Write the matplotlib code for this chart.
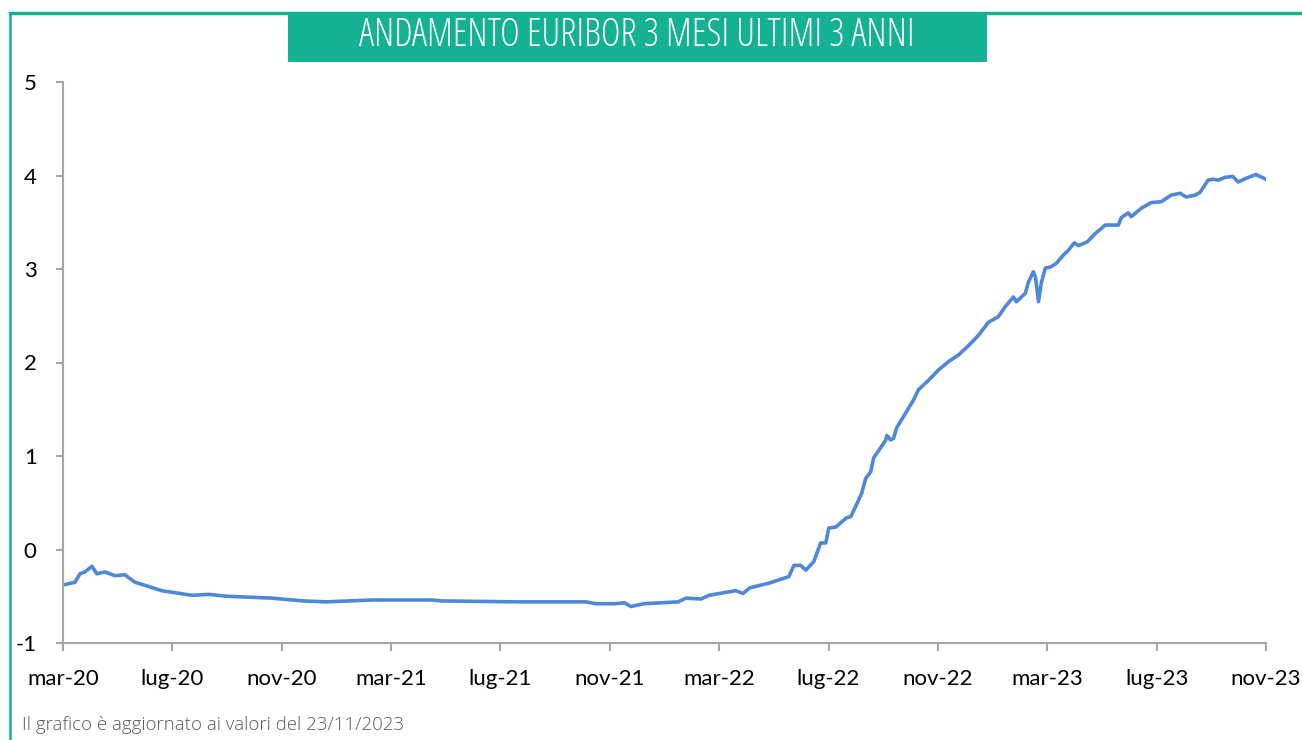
import matplotlib.pyplot as plt
from matplotlib.patches import Rectangle
from matplotlib.lines import Line2D

plt.rcParams['axes.unicode_minus'] = False

# mesi trascorsi da marzo 2020 (lettura approssimativa dal grafico)
mesi = [0, 0.44, 0.62, 0.80, 1.06, 1.24, 1.53, 1.90, 2.26, 2.63,
        3.18, 3.60, 4.72, 5.34, 5.98, 7.64, 8.78, 9.62, 11.30, 13.53,
        13.82, 16.61, 19.13, 19.49, 20.19, 20.54, 20.77, 21.24, 22.50,
        22.79, 23.33, 23.63, 24.60, 24.87, 25.12, 25.82,
        26.55, 26.73, 26.98, 27.17, 27.46, 27.71, 27.90, 28.01, 28.26,
        28.66, 28.81, 28.99, 29.21, 29.36, 29.54, 29.65, 29.91, 30.09,
        30.13, 30.27, 30.38, 30.49, 30.82, 31.11, 31.29, 31.66, 32.02,
        32.39, 32.75, 33.12, 33.48, 33.85, 34.21, 34.47, 34.76, 34.87,
        35.20, 35.31, 35.49, 35.57, 35.68, 35.78, 35.93, 36.11, 36.33,
        36.59, 36.77, 36.99, 37.14, 37.46, 37.76, 38.12, 38.41, 38.60,
        38.71, 38.96, 39.07, 39.44, 39.80, 40.17, 40.53, 40.86, 41.08,
        41.41, 41.59, 41.88, 42.07, 42.25, 42.50, 42.79, 42.98, 43.27,
        43.63, 44.00]
euribor = [-0.38, -0.35, -0.26, -0.24, -0.18, -0.26, -0.24, -0.28, -0.27,
           -0.35,
           -0.40, -0.44, -0.49, -0.48, -0.50, -0.52, -0.55, -0.56, -0.54,
           -0.54, -0.55, -0.56, -0.56, -0.58, -0.58, -0.57, -0.61, -0.58,
           -0.56, -0.52, -0.53, -0.49, -0.44, -0.47, -0.41, -0.36,
           -0.29, -0.17, -0.17, -0.22, -0.13,
           0.07, 0.07, 0.23, 0.24, 0.34, 0.35, 0.46, 0.60, 0.76, 0.83, 0.98,
           1.09, 1.17, 1.22, 1.17, 1.19, 1.30, 1.46, 1.60, 1.71, 1.81, 1.92,
           2.01, 2.08, 2.18, 2.29, 2.43, 2.49, 2.60, 2.70, 2.65, 2.74, 2.86,
           2.97, 2.91, 2.65, 2.85, 3.01, 3.02, 3.06, 3.15, 3.20, 3.28, 3.25,
           3.29, 3.38, 3.47, 3.47, 3.47, 3.55, 3.60, 3.56, 3.65, 3.71, 3.72,
           3.79, 3.81, 3.77, 3.79, 3.82, 3.95, 3.96, 3.95, 3.98, 3.99, 3.93,
           3.97, 4.01, 3.96]

tick_mesi = [0, 4, 8, 12, 16, 20, 24, 28, 32, 36, 40, 44]
tick_label = ['mar-20', 'lug-20', 'nov-20', 'mar-21', 'lug-21', 'nov-21',
              'mar-22', 'lug-22', 'nov-22', 'mar-23', 'lug-23', 'nov-23']

verde = '#14B193'
grigio = '#A6A6A6'
W, H = 1302, 740

fig = plt.figure(figsize=(W / 100, H / 100), dpi=100)
ax = fig.add_axes([63 / W, 1 - 643 / H, (1266 - 63) / W, (643 - 82) / H])

ax.plot(mesi, euribor, color='#4F88D8', lw=2.6, solid_joinstyle='round')
ax.set_xlim(0, 44)
ax.set_ylim(-1, 5)
ax.set_xticks(tick_mesi)
ax.set_xticklabels(tick_label)
ax.set_yticks(range(-1, 6))

for s in ['top', 'right']:
    ax.spines[s].set_visible(False)
for s in ['left', 'bottom']:
    ax.spines[s].set_color(grigio)
    ax.spines[s].set_linewidth(1.5)
ax.tick_params(axis='y', length=5, width=1.5, color=grigio, pad=14,
               labelsize=16)
ax.tick_params(axis='x', length=6, width=1.5, color=grigio, pad=13,
               labelsize=16)
for lab in ax.get_xticklabels() + ax.get_yticklabels():
    lab.set_family('Lato')

# cornice verde
fig.add_artist(Line2D([10 / W, 10 / W], [0, 1 - 13 / H], color=verde,
                      lw=1.8, transform=fig.transFigure))
fig.add_artist(Line2D([10 / W, 1], [1 - 13 / H, 1 - 13 / H], color=verde,
                      lw=2.5, transform=fig.transFigure))
fig.add_artist(Rectangle((288 / W, 1 - 62 / H), (987 - 288) / W, 49 / H,
                         facecolor=verde, edgecolor='none',
                         transform=fig.transFigure))
fig.text(637 / W, 1 - 36 / H, 'ANDAMENTO EURIBOR 3 MESI ULTIMI 3 ANNI',
         color='white', fontsize=27.3, family='Open Sans', weight='light',
         stretch='condensed', ha='center', va='center')

fig.text(22 / W, 1 - 725 / H, 'Il grafico è aggiornato ai valori del 23/11/2023',
         color='#595959', fontsize=13.4, family='Open Sans', weight='light',
         ha='left', va='center')

fig.savefig('out.png', dpi=100)
